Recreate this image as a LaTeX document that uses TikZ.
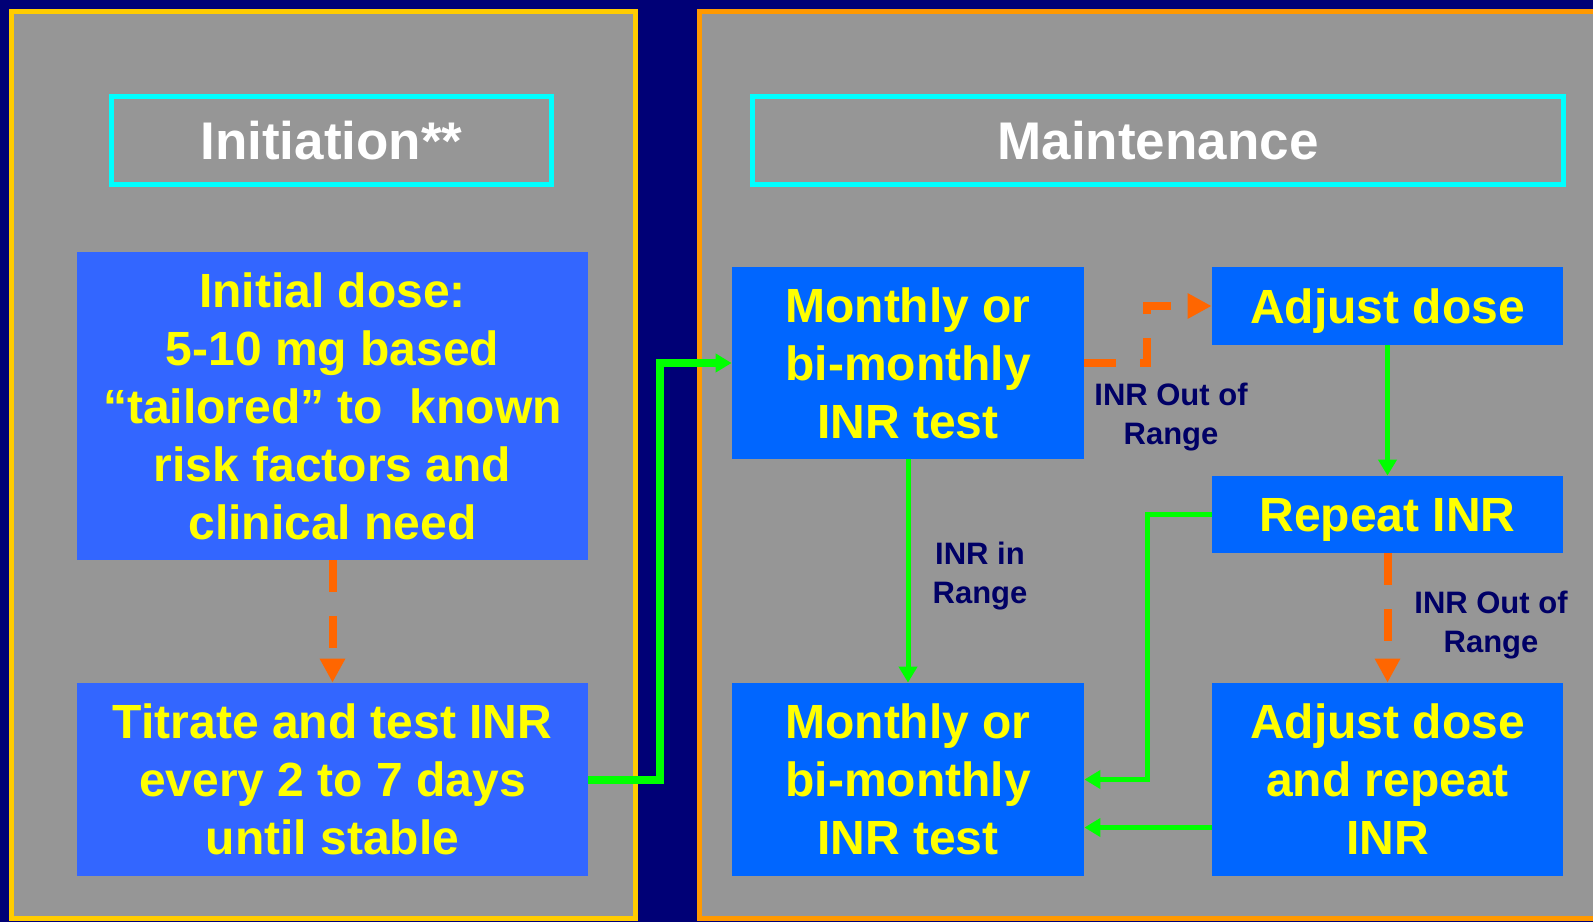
\documentclass[tikz,border=0pt]{standalone}
\usepackage{fontspec}
\setmainfont{Liberation Sans}
\usetikzlibrary{calc,arrows.meta}
\definecolor{navybg}{RGB}{0,0,118}
\definecolor{panelgray}{RGB}{150,150,150}
\definecolor{panelyellow}{RGB}{255,204,0}
\definecolor{panelorange}{RGB}{255,153,0}
\definecolor{titlecyan}{RGB}{0,255,255}
\definecolor{boxblueL}{RGB}{51,102,255}
\definecolor{boxblueR}{RGB}{0,102,255}
\definecolor{txtyellow}{RGB}{255,255,0}
\definecolor{lblnavy}{RGB}{0,0,102}
\definecolor{okgreen}{RGB}{0,255,0}
\definecolor{badorange}{RGB}{255,102,0}

\begin{document}
\begin{tikzpicture}[x=0.5pt, y=-0.5pt,
	titlebox/.style={draw=titlecyan, line width=2.5pt, inner sep=0pt, text=white, font={\fontsize{26.5}{32}\selectfont\bfseries}},
	block/.style={inner sep=0pt, align=center, text=txtyellow, font={\fontsize{24}{29}\selectfont\bfseries}},
	lbl/.style={inner sep=0pt, align=center, text=lblnavy, font={\fontsize{15.5}{19.5}\selectfont\bfseries}},
	okarrow/.style={draw=okgreen, line width=2.5pt, -{Triangle[length=8pt, width=9pt]}},
	badarrow/.style={draw=badorange, line width=4pt, dash pattern=on 16pt off 12pt, -{Triangle[length=12pt, width=12pt]}}]
	\useasboundingbox (0,0) rectangle (1593,922);
	\fill[navybg] (0,0) rectangle (1593,922);
	\draw[panelyellow, line width=2.5pt, fill=panelgray] (11.5,11.5) rectangle (635.5,918.5);
	\draw[panelorange, line width=2.5pt, fill=panelgray] (699.5,11.5) rectangle (1620,918.5);
	\node[titlebox, minimum width=220pt, minimum height=44pt] (inittitle) at (331.5,140.5) {Initiation**};
	\node[titlebox, minimum width=405.5pt, minimum height=44pt] (mainttitle) at (1158,140.5) {Maintenance};
	\node[block, fill=boxblueL, minimum width=255.5pt, minimum height=154pt] (initdose) at (332.5,406) {Initial dose:\\ 5-10 mg based\\ “tailored” to~~known\\ risk factors and\\ clinical need};
	\node[block, fill=boxblueL, minimum width=255.5pt, minimum height=96.5pt] (titrate) at (332.5,779.5) {Titrate and test INR\\ every 2 to 7 days\\ until stable};
	\node[block, fill=boxblueR, minimum width=176pt, minimum height=96pt] (mtop) at (908,363) {Monthly or\\ bi-monthly\\ INR test};
	\node[block, fill=boxblueR, minimum width=175.5pt, minimum height=39pt, text depth=0pt] (adj) at (1387.5,306) {Adjust dose};
	\node[block, fill=boxblueR, minimum width=175.5pt, minimum height=38.5pt, text depth=0pt] (rep) at (1387.5,514.5) {Repeat INR};
	\node[block, fill=boxblueR, minimum width=176pt, minimum height=96.5pt] (mbot) at (908,779.5) {Monthly or\\ bi-monthly\\ INR test};
	\node[block, fill=boxblueR, minimum width=175.5pt, minimum height=96.5pt] (adjrep) at (1387.5,779.5) {Adjust dose\\ and repeat\\ INR};
	\node[lbl] (outlbla) at (1171,417) {INR Out of\\ Range};
	\node[lbl] (inlbl) at (980,576) {INR in\\ Range};
	\node[lbl] (outlblb) at (1491,625) {INR Out of\\ Range};
	\draw[badarrow] (initdose) -- (titrate);
	\draw[okarrow, line width=4pt] (titrate.east) -- ++(72,0) |- (mtop.west);
	\draw[badarrow] (mtop.east) -- ++(63,0) |- (adj.west);
	\draw[okarrow] (adj) -- (rep);
	\draw[okarrow] (mtop) -- (mbot);
	\draw[okarrow] (rep.west) -- ++(-64,0) |- (mbot.east);
	\draw[okarrow] ([yshift=-24pt]adjrep.west) -- ([yshift=-24pt]mbot.east);
	\draw[badarrow] (rep) -- (adjrep);
\end{tikzpicture}
\end{document}
